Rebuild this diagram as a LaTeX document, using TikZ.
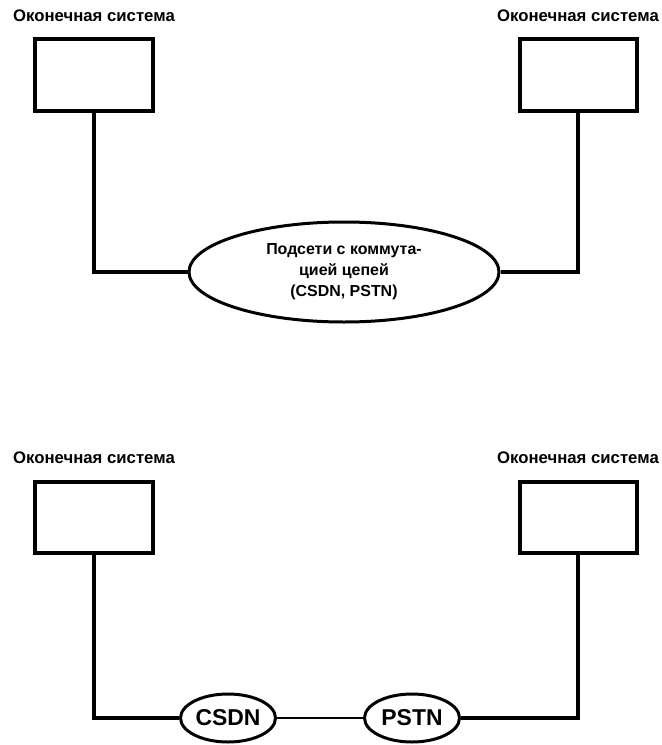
\documentclass[tikz,border=0pt]{standalone}
\usepackage{fontspec}
\setmainfont{Liberation Sans}
\usetikzlibrary{shapes.geometric}

\begin{document}
\begin{tikzpicture}[
       x=1bp, y=-1bp,
       line width=3.5bp,
       sistema/.style={
         draw,
         rectangle,
         line width=4bp,
         minimum width=117bp,
         minimum height=71bp,
         inner sep=0pt
       },
       podpis/.style={
         font=\fontsize{16.8}{18}\selectfont\bfseries
       },
       podset/.style={
         draw,
         ellipse,
         line width=3bp,
         inner sep=0pt,
         align=center
       }
     ]

       \useasboundingbox (0,0) rectangle (662,745);

       % верхняя схема
       \node (s1) at (94,75) [sistema,label={[podpis,label distance=11bp]above:Оконечная система}]{};
       \node (s2) at (578,75) [sistema,label={[podpis,label distance=11bp]above:Оконечная система}]{};
       \node (net) at (344,272) [podset,minimum width=310bp,minimum height=100bp,
         font=\fontsize{16}{21}\selectfont\bfseries]
         {Подсети с коммута-\\цией цепей\\(CSDN, PSTN)};

       \draw (s1.south) |- (net.west);
       \draw (s2.south) |- (net.east);

       % нижняя схема
       \node (s3) at (94,517) [sistema,label={[podpis,label distance=11bp]above:Оконечная система}]{};
       \node (s4) at (578,517) [sistema,label={[podpis,label distance=11bp]above:Оконечная система}]{};
       \node (csdn) at (228,718) [podset,minimum width=95bp,minimum height=48bp,
         font=\fontsize{23}{24}\selectfont\bfseries]{CSDN};
       \node (pstn) at (412,718) [podset,minimum width=95bp,minimum height=48bp,
         font=\fontsize{23}{24}\selectfont\bfseries]{PSTN};

       \draw (s3.south) |- (csdn.west);
       \draw[line width=2bp] (csdn) -- (pstn);
       \draw (s4.south) |- (pstn.east);

\end{tikzpicture}
\end{document}
